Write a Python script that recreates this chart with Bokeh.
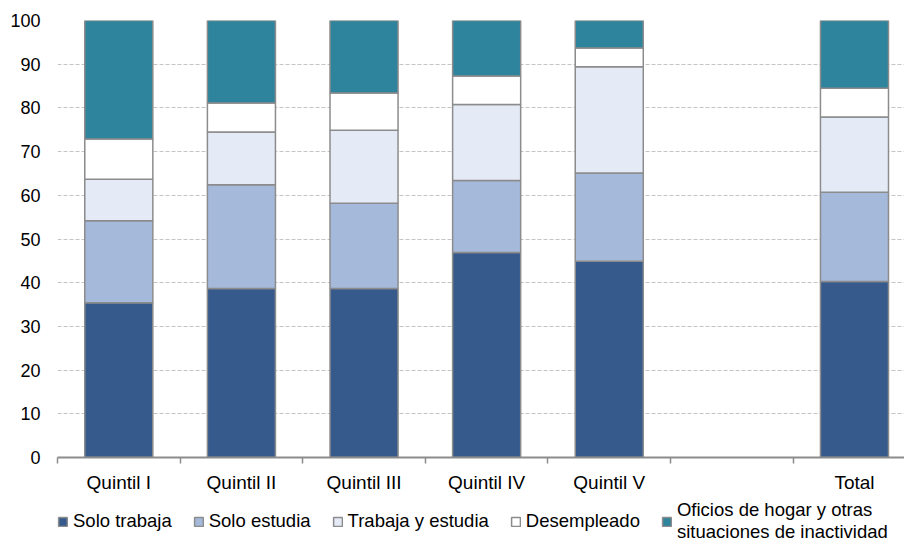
from bokeh.plotting import figure
from bokeh.layouts import column
from bokeh.models import (ColumnDataSource, FixedTicker, Legend, LegendItem, Range1d)
from bokeh.embed import file_html
from bokeh.resources import INLINE

# ---- data ----
slots = ["Quintil I", "Quintil II", "Quintil III", "Quintil IV", "Quintil V", "", "Total"]
categories = ["Quintil I", "Quintil II", "Quintil III", "Quintil IV", "Quintil V", "Total"]
solo_trabaja = [35.4, 38.7, 38.7, 46.9, 44.9, 40.3]
solo_estudia = [18.8, 23.7, 19.5, 16.5, 20.2, 20.4]
trabaja_estudia = [9.5, 12.1, 16.7, 17.4, 24.3, 17.2]
desempleado = [9.2, 6.6, 8.5, 6.5, 4.3, 6.6]
oficios = [27.1, 18.9, 16.6, 12.7, 6.3, 15.5]
series_keys = ["solo_trabaja", "solo_estudia", "trabaja_estudia", "desempleado", "oficios"]
series_labels = ["Solo trabaja", "Solo estudia", "Trabaja y estudia", "Desempleado",
                 "Oficios de hogar y otras\nsituaciones de inactividad"]
colors = ["#365a8c", "#a5b9db", "#e4eaf6", "#ffffff", "#2e839d"]
y_ticks = [0, 10, 20, 30, 40, 50, 60, 70, 80, 90, 100]

FONT = "Liberation Sans"
EDGE = "#8c8c8c"

xs = [slots.index(c) + 0.5 for c in categories]
source = ColumnDataSource(dict(x=xs, solo_trabaja=solo_trabaja, solo_estudia=solo_estudia,
                               trabaja_estudia=trabaja_estudia, desempleado=desempleado,
                               oficios=oficios))

p = figure(frame_width=847, frame_height=437, output_backend="svg", toolbar_location=None,
           x_range=Range1d(0, 6.908), y_range=Range1d(0, 100),
           min_border_left=57, min_border_right=0, min_border_top=20, min_border_bottom=0)
p.outline_line_color = None
p.background_fill_color = "white"

renderers = p.vbar_stack(series_keys, x="x", width=0.555, color=colors,
                         line_color=EDGE, line_width=1.5, source=source)

# axes
xa = p.xaxis[0]
xa.ticker = FixedTicker(ticks=[i + 0.5 for i in range(len(slots))],
                        minor_ticks=list(range(len(slots) + 1)))
xa.major_label_overrides = {i + 0.5: s for i, s in enumerate(slots)}
xa.major_tick_line_color = None
xa.major_tick_out = 0
xa.major_tick_in = 0
xa.minor_tick_out = 6
xa.minor_tick_in = 0
xa.minor_tick_line_color = EDGE
xa.minor_tick_line_width = 1.5
xa.axis_line_color = EDGE
xa.axis_line_width = 2
xa.major_label_text_font = FONT
xa.major_label_text_font_size = "19px"
xa.major_label_text_color = "black"
xa.major_label_standoff = 8

ya = p.yaxis[0]
ya.ticker = FixedTicker(ticks=y_ticks)
ya.axis_line_color = None
ya.major_tick_line_color = None
ya.minor_tick_line_color = None
ya.major_tick_out = 0
ya.major_tick_in = 0
ya.major_label_text_font = FONT
ya.major_label_text_font_size = "18px"
ya.major_label_text_color = "black"
ya.major_label_standoff = 17

p.xgrid.grid_line_color = None
p.ygrid.grid_line_color = "#c4c4c4"
p.ygrid.grid_line_dash = "4 2"
p.ygrid.grid_line_width = 1

# ---- legend strip below the chart ----
# the same stacked bars are drawn here far below the visible range, only to feed the legend
lg = figure(width=904, height=50, output_backend="svg", toolbar_location=None,
            x_range=Range1d(0, 6.908), y_range=Range1d(150, 151),
            min_border_left=57, min_border_right=0, min_border_top=0, min_border_bottom=0,
            x_axis_type=None, y_axis_type=None)
lg.outline_line_color = None
lg.grid.grid_line_color = None
legend_src = lg.vbar_stack(series_keys, x="x", width=0.555, color=colors,
                           line_color=EDGE, line_width=1.5, source=source)
items = [LegendItem(label=lab, renderers=[r]) for lab, r in zip(series_labels, legend_src)]
legend = Legend(items=items, orientation="horizontal", location=(0, 2))
legend.glyph_width = 11
legend.glyph_height = 11
legend.label_standoff = 5
legend.spacing = 21
legend.padding = 0
legend.margin = 0
legend.border_line_color = None
legend.background_fill_alpha = 0
legend.label_text_font = FONT
legend.label_text_font_size = "18.5px"
legend.label_text_color = "black"
legend.label_text_line_height = 0.9
lg.add_layout(legend, "center")

layout = column(p, lg, spacing=0)
open("out.html", "w").write(file_html(layout, INLINE))
